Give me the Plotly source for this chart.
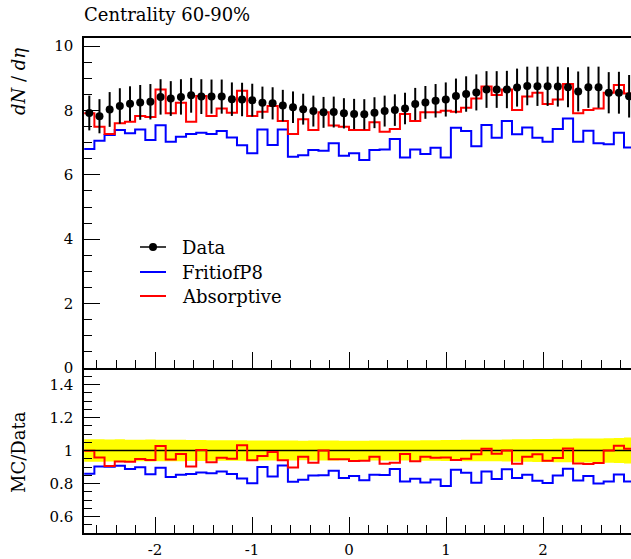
import numpy as np
import plotly.graph_objects as go

# Pseudorapidity binning
eta_lo = -2.73
eta_width = 0.105
n_bins = 54
eta_edges = eta_lo + eta_width * np.arange(n_bins + 1)
eta_centres = 0.5 * (eta_edges[:-1] + eta_edges[1:])

# Measured dN/deta, centrality 60-90%
data_vals = [7.92, 7.82, 8.03, 8.14, 8.21, 8.25, 8.27, 8.42, 8.37, 8.42,
             8.47, 8.43, 8.43, 8.43, 8.35, 8.34, 8.32, 8.24, 8.22, 8.15,
             8.10, 8.04, 7.98, 7.94, 7.95, 7.91, 7.89, 7.88, 7.93, 7.98,
             8.01, 8.06, 8.20, 8.25, 8.30, 8.34, 8.45, 8.51, 8.56, 8.65,
             8.65, 8.65, 8.71, 8.76, 8.75, 8.75, 8.74, 8.72, 8.59, 8.72,
             8.72, 8.55, 8.55, 8.44]
data_errs = [0.54, 0.53, 0.54, 0.55, 0.54, 0.54, 0.55, 0.55, 0.54, 0.55,
             0.54, 0.54, 0.53, 0.53, 0.52, 0.52, 0.51, 0.50, 0.50, 0.49,
             0.49, 0.48, 0.48, 0.48, 0.48, 0.47, 0.47, 0.47, 0.48, 0.48,
             0.49, 0.49, 0.50, 0.51, 0.52, 0.53, 0.54, 0.55, 0.56, 0.57,
             0.57, 0.58, 0.59, 0.60, 0.61, 0.61, 0.62, 0.62, 0.62, 0.64,
             0.64, 0.64, 0.65, 0.66]

# Generator predictions
fritiof_vals = [6.80, 7.06, 7.24, 7.39, 7.29, 7.41, 7.08, 7.54, 7.03, 7.18,
                7.27, 7.31, 7.27, 7.36, 7.16, 6.92, 6.67, 7.41, 6.93, 7.41,
                6.56, 6.61, 6.77, 6.75, 6.98, 6.59, 6.67, 6.46, 6.77, 6.79,
                7.11, 6.54, 6.79, 6.65, 6.84, 6.54, 7.46, 7.36, 6.89, 7.55,
                7.15, 7.67, 7.26, 7.47, 7.15, 7.03, 7.42, 7.75, 7.03, 7.37,
                6.98, 6.95, 7.31, 6.85]
absorptive_vals = [7.91, 7.49, 7.27, 7.60, 7.65, 7.83, 7.80, 8.65, 7.91, 8.24,
                   7.65, 8.45, 7.83, 8.06, 7.93, 8.61, 7.83, 7.96, 8.14, 7.67,
                   7.27, 7.73, 7.39, 7.94, 7.53, 7.49, 7.39, 7.39, 7.63, 7.34,
                   7.42, 7.89, 7.67, 7.94, 7.94, 7.99, 7.96, 8.08, 8.37, 8.74,
                   8.48, 8.65, 8.01, 8.43, 8.55, 8.20, 8.34, 8.82, 7.91, 8.01,
                   8.06, 8.55, 8.79, 8.53]

# Axis tick labels
x_tick_vals = [-2, -1, 0, 1, 2]
x_tick_text = ["-2", "-1", "0", "1", "2"]

data = np.array(data_vals)
err = np.array(data_errs)
fritiof = np.array(fritiof_vals)
absorptive = np.array(absorptive_vals)


def step(vals):
    vals = list(vals)
    return vals + [vals[-1]]


FONT = "DejaVu Serif"
W, H = 631, 559
L, R, T, B = 84, 0, 38, 26
PW, PH = W - L - R, H - T - B
X_RANGE = [-2.732, 2.907]


def px(x):
    return (x - L) / PW


def py(y):
    return (H - B - y) / PH


fig = go.Figure()

# Ratio panel: data uncertainty band, unity line, MC/data ratios
fig.add_trace(go.Scatter(x=eta_edges, y=step(1 - err / data), mode="lines",
                         line=dict(width=0, shape="hv"), xaxis="x", yaxis="y",
                         hoverinfo="skip", showlegend=False))
fig.add_trace(go.Scatter(x=eta_edges, y=step(1 + err / data), mode="lines",
                         line=dict(width=0, shape="hv"), fill="tonexty",
                         fillcolor="#ffff00", xaxis="x", yaxis="y",
                         hoverinfo="skip", showlegend=False))
fig.add_trace(go.Scatter(x=X_RANGE, y=[1, 1], mode="lines",
                         line=dict(color="black", width=1.5), xaxis="x", yaxis="y",
                         showlegend=False))
fig.add_trace(go.Scatter(x=eta_edges, y=step(fritiof / data), mode="lines",
                         line=dict(color="#0000ff", width=2, shape="hv"),
                         xaxis="x", yaxis="y", showlegend=False))
fig.add_trace(go.Scatter(x=eta_edges, y=step(absorptive / data), mode="lines",
                         line=dict(color="#ff0000", width=2, shape="hv"),
                         xaxis="x", yaxis="y", showlegend=False))

# Main panel
fig.add_trace(go.Scatter(x=eta_edges, y=step(fritiof), mode="lines",
                         line=dict(color="#0000ff", width=2, shape="hv"),
                         xaxis="x2", yaxis="y2", name="FritiofP8", showlegend=False))
fig.add_trace(go.Scatter(x=eta_edges, y=step(absorptive), mode="lines",
                         line=dict(color="#ff0000", width=2, shape="hv"),
                         xaxis="x2", yaxis="y2", name="Absorptive", showlegend=False))
fig.add_trace(go.Scatter(x=eta_centres, y=data, mode="markers",
                         marker=dict(color="black", size=8),
                         error_y=dict(type="data", array=err, color="black",
                                      thickness=2, width=0),
                         xaxis="x2", yaxis="y2", name="Data", showlegend=False))

tickfont = dict(family=FONT, size=15, color="black")
common_x = dict(range=X_RANGE, showgrid=False, zeroline=False, showline=True,
                linecolor="black", linewidth=1.5, ticks="inside", ticklen=16,
                tickwidth=1, tickcolor="black", tickmode="array",
                tickvals=x_tick_vals, ticktext=x_tick_text, automargin=False,
                minor=dict(ticks="inside", ticklen=8, dtick=0.2, tick0=0,
                           tickcolor="black", tickwidth=1, showgrid=False),
                tickfont=tickfont)
common_y = dict(showgrid=False, zeroline=False, showline=True, linecolor="black",
                linewidth=1.5, ticks="inside", ticklen=16, tickwidth=1,
                tickcolor="black", tickfont=tickfont, ticklabelstandoff=6,
                automargin=False)

split = 165 / PH
fig.update_layout(
    width=W, height=H,
    margin=dict(l=L, r=R, t=T, b=B, pad=0, autoexpand=False),
    paper_bgcolor="white", plot_bgcolor="white",
    showlegend=False,
    xaxis=dict(common_x, domain=[0, 1], anchor="y", ticklabelstandoff=2),
    xaxis2=dict(common_x, domain=[0, 1], anchor="y2", matches="x",
                showticklabels=False, mirror=True),
    yaxis=dict(common_y, domain=[0, split], anchor="x", range=[0.5, 1.5],
               tick0=0, dtick=0.2,
               minor=dict(ticks="inside", ticklen=8, dtick=0.05, tick0=0,
                          tickcolor="black", tickwidth=1, showgrid=False)),
    yaxis2=dict(common_y, domain=[split, 1], anchor="x2", range=[0, 10.25],
                tick0=0, dtick=2,
                minor=dict(ticks="inside", ticklen=8, dtick=0.5, tick0=0,
                           tickcolor="black", tickwidth=1, showgrid=False)),
)

annotations = [
    dict(text="Centrality 60-90%", x=px(82), y=py(15), xref="paper", yref="paper",
         xanchor="left", yanchor="middle", showarrow=False,
         font=dict(family=FONT, size=18, color="black")),
    dict(text="<i>dN</i> / <i>dη</i>", x=px(18), y=py(82), xref="paper", yref="paper",
         xanchor="center", yanchor="middle", textangle=-90, showarrow=False,
         font=dict(family=FONT, size=18, color="black")),
    dict(text="MC/Data", x=px(18), y=py(452), xref="paper", yref="paper",
         xanchor="center", yanchor="middle", textangle=-90, showarrow=False,
         font=dict(family=FONT, size=18, color="black")),
]

# Legend entries
legend_items = [("Data", "black", 247, True),
                ("FritiofP8", "#0000ff", 272, False),
                ("Absorptive", "#ff0000", 296, False)]
shapes = []
for label, colour, yy, dot in legend_items:
    shapes.append(dict(type="line", xref="paper", yref="paper",
                       x0=px(140), x1=px(166), y0=py(yy), y1=py(yy),
                       line=dict(color=colour, width=1.5 if dot else 2)))
    if dot:
        shapes.append(dict(type="circle", xref="paper", yref="paper",
                           x0=px(149), x1=px(157), y0=py(251), y1=py(243),
                           fillcolor="black", line=dict(color="black", width=0)))
    annotations.append(dict(text=label, x=px(180), y=py(yy), xref="paper",
                            yref="paper", xanchor="left", yanchor="middle",
                            showarrow=False,
                            font=dict(family=FONT, size=18, color="black")))

fig.update_layout(annotations=annotations, shapes=shapes)

fig.write_html("out.html")
